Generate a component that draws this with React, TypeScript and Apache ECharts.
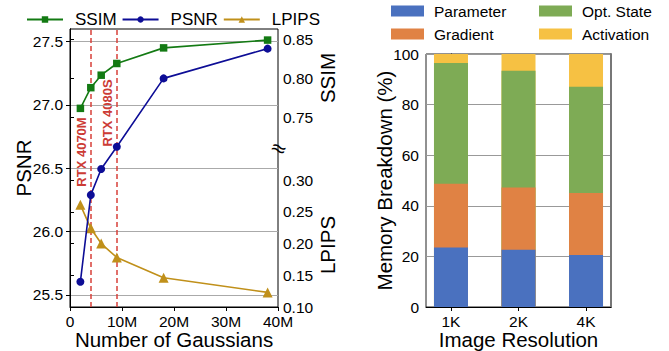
import React, { useEffect, useRef } from "react";
import * as echarts from "echarts";

// ---- Left panel data ----
const gaussians = [2e6, 4e6, 6e6, 9e6, 18e6, 38e6];
const ssim = [0.7615, 0.788, 0.804, 0.819, 0.839, 0.849];
const psnr = [25.605, 26.29, 26.495, 26.67, 27.21, 27.445];
const lpips = [0.261, 0.224, 0.2, 0.178, 0.146, 0.123];
const gpuLimits = [4e6, 9e6];
const gpuNames = ["RTX 4070M", "RTX 4080S"];
const psnrTicks = [25.5, 26.0, 26.5, 27.0, 27.5];
const ssimTicks = [0.75, 0.8, 0.85];
const lpipsTicks = [0.1, 0.15, 0.2, 0.25, 0.3];

// ---- Right panel data ----
const resolutions = ["1K", "2K", "4K"];
const parameter = [23.5, 22.6, 20.6];
const gradient = [25.2, 24.6, 24.5];
const optState = [47.7, 46.2, 42.0];
const activation = [3.6, 6.6, 12.9];

const FONT = "'Liberation Sans', Arial, sans-serif";
const TICK = 15.5;
const TITLE = 20.5;

export default function App() {
  const ref = useRef<HTMLDivElement>(null);
  useEffect(() => {
    document.body.style.margin = "0";
    const chart = echarts.init(ref.current!, null, { renderer: "svg" });
    const txt = { color: "#000", fontFamily: FONT, fontSize: TICK };
    const hiddenX = (gi: number) => ({
      type: "value" as const, gridIndex: gi, min: 0, max: 40e6, show: false,
    });
    // stacked segments: each bar drawn from 0 to its cumulative top, upper segments behind
    const layers = [
      { name: "Parameter", values: parameter, color: "#4a71bf" },
      { name: "Gradient", values: gradient, color: "#e08244" },
      { name: "Opt. State", values: optState, color: "#7eab55" },
      { name: "Activation", values: activation, color: "#f6c143" },
    ];
    const barSeries = layers.map((layer, li) => ({
      name: layer.name, type: "bar", xAxisIndex: 3, yAxisIndex: 3,
      barWidth: 34, barGap: "-100%", color: layer.color, z: 10 - li,
      data: resolutions.map((_, i) => [
        i,
        layers.slice(0, li + 1).reduce((s, l) => s + l.values[i], 0),
      ]),
    }));
    const g = { outerBoundsMode: "none", containLabel: false };
    const option: any = {
      animation: false,
      textStyle: { fontFamily: FONT },
      grid: [
        { ...g, left: 70, top: 29, width: 208, height: 278, show: true, borderColor: "#000", borderWidth: 1, backgroundColor: "transparent" },
        { ...g, left: 70, top: 29, width: 208, height: 120 },
        { ...g, left: 70, top: 149, width: 208, height: 158 },
        { ...g, left: 426, top: 54, width: 185, height: 253, show: true, borderColor: "#222", borderWidth: 1, backgroundColor: "transparent" },
      ],
      legend: [
        {
          data: ["SSIM", "PSNR", "LPIPS"], left: 21, top: 6, itemWidth: 36, itemHeight: 8, itemGap: 5,
          textStyle: { ...txt, fontSize: 17, padding: [0, 0, 0, 7] },
        },
        {
          data: ["Parameter", "Gradient"], orient: "vertical", left: 386, top: -2, itemWidth: 33, itemHeight: 11, itemGap: 7,
          icon: "rect", textStyle: { ...txt, padding: [0, 0, 0, 5] },
        },
        {
          data: ["Opt. State", "Activation"], orient: "vertical", left: 534, top: -2, itemWidth: 33, itemHeight: 11, itemGap: 7,
          icon: "rect", textStyle: { ...txt, padding: [0, 0, 0, 5] },
        },
      ],
      xAxis: [
        {
          type: "value", gridIndex: 0, min: 0, max: 40e6, interval: 10e6,
          name: "Number of Gaussians", nameLocation: "middle", nameGap: 22, nameMoveOverlap: false,
          nameTextStyle: { ...txt, fontSize: TITLE },
          axisLine: { show: true, lineStyle: { color: "#000" } },
          axisTick: { show: true, length: 4, lineStyle: { color: "#000" } },
          axisLabel: { ...txt, margin: 6, formatter: (v: number) => (v === 0 ? "0" : v / 1e6 + "M") },
          splitLine: { show: false },
        },
        hiddenX(1),
        hiddenX(2),
        {
          type: "value", gridIndex: 3, min: -0.37, max: 2.37,
          name: "Image Resolution", nameLocation: "middle", nameGap: 22, nameMoveOverlap: false,
          nameTextStyle: { ...txt, fontSize: TITLE },
          axisLine: { show: true, lineStyle: { color: "#000" } },
          axisTick: { show: true, length: 4, customValues: [0, 1, 2], lineStyle: { color: "#000" } },
          axisLabel: { ...txt, margin: 6, customValues: [0, 1, 2], formatter: (v: number) => resolutions[Math.round(v)] },
          splitLine: { show: false },
        },
      ],
      yAxis: [
        {
          type: "value", gridIndex: 0, min: 25.405, max: 27.6,
          name: "PSNR", nameLocation: "middle", nameGap: 36, nameMoveOverlap: false,
          nameTextStyle: { ...txt, fontSize: TITLE },
          axisLine: { show: true, lineStyle: { color: "#000" } },
          axisTick: { show: true, length: 4, customValues: psnrTicks, lineStyle: { color: "#000" } },
          axisLabel: { ...txt, margin: 7, customValues: psnrTicks, formatter: (v: number) => v.toFixed(1) },
          splitLine: { show: true, lineStyle: { color: "#aaaaaa", width: 1.2 } },
        },
        {
          type: "value", gridIndex: 1, position: "right", min: 0.7094, max: 0.8632,
          axisLine: { show: true, lineStyle: { color: "#000" } },
          axisTick: { show: true, length: 4, customValues: ssimTicks, lineStyle: { color: "#000" } },
          axisLabel: { ...txt, margin: 5, customValues: ssimTicks, formatter: (v: number) => v.toFixed(2) },
          splitLine: { show: false },
        },
        {
          type: "value", gridIndex: 2, position: "right", min: 0.1, max: 0.349,
          axisLine: { show: true, lineStyle: { color: "#000" } },
          axisTick: { show: true, length: 4, customValues: lpipsTicks, lineStyle: { color: "#000" } },
          axisLabel: { ...txt, margin: 5, customValues: lpipsTicks, formatter: (v: number) => v.toFixed(2) },
          splitLine: { show: false },
        },
        {
          type: "value", gridIndex: 3, min: 0, max: 100, interval: 20,
          name: "Memory Breakdown (%)", nameLocation: "middle", nameGap: 31, nameMoveOverlap: false,
          nameTextStyle: { ...txt, fontSize: TITLE },
          axisLine: { show: true, lineStyle: { color: "#000" } },
          axisTick: { show: true, length: 4, lineStyle: { color: "#000" } },
          axisLabel: { ...txt, margin: 7 },
          splitLine: { show: true, lineStyle: { color: "#999999", width: 1.2 } },
        },
        {
          type: "value", gridIndex: 3, position: "right", min: 0, max: 100,
          axisLine: { show: true, lineStyle: { color: "#777", width: 2 } },
          axisTick: { show: false }, axisLabel: { show: false }, splitLine: { show: false },
        },
      ],
      series: [
        {
          name: "LPIPS", type: "line", xAxisIndex: 2, yAxisIndex: 2,
          data: gaussians.map((gg, i) => [gg, lpips[i]]),
          color: "#c0901a", symbol: "triangle", symbolSize: 10,
          lineStyle: { width: 1.6 }, z: 3,
        },
        {
          name: "PSNR", type: "line", xAxisIndex: 0, yAxisIndex: 0,
          data: gaussians.map((gg, i) => [gg, psnr[i]]),
          color: "#0d0d96", symbol: "circle", symbolSize: 8,
          lineStyle: { width: 1.6 }, z: 4,
          markLine: {
            silent: true, symbol: "none", z: 1,
            label: { show: false },
            lineStyle: { color: "#d8403a", type: [5, 3], width: 1.5 },
            data: gpuLimits.map((x) => ({ xAxis: x })),
          },
        },
        {
          name: "SSIM", type: "line", xAxisIndex: 1, yAxisIndex: 1,
          data: gaussians.map((gg, i) => [gg, ssim[i]]),
          color: "#137a13", symbol: "rect", symbolSize: 7.5,
          lineStyle: { width: 1.6 }, z: 4,
        },
        ...barSeries,
      ],
      graphic: [
        { type: "text", x: 327, y: 78, rotation: Math.PI / 2, style: { text: "SSIM", fill: "#000", font: `${TITLE}px ${FONT}`, align: "center", verticalAlign: "middle" } },
        { type: "text", x: 327, y: 245, rotation: Math.PI / 2, style: { text: "LPIPS", fill: "#000", font: `${TITLE}px ${FONT}`, align: "center", verticalAlign: "middle" } },
        { type: "text", x: 279, y: 148, rotation: -0.4, z: 10, style: { text: "≈", fill: "#000", font: `20px 'DejaVu Sans', sans-serif`, align: "center", verticalAlign: "middle" } },
        { type: "text", x: 81, y: 152, rotation: Math.PI / 2, style: { text: gpuNames[0], fill: "#cc3b35", font: `bold 13px ${FONT}`, align: "center", verticalAlign: "middle" } },
        { type: "text", x: 107, y: 113, rotation: Math.PI / 2, style: { text: gpuNames[1], fill: "#cc3b35", font: `bold 13px ${FONT}`, align: "center", verticalAlign: "middle" } },
      ],
    };
    chart.setOption(option);
    return () => chart.dispose();
  }, []);
  return <div ref={ref} style={{ width: 669, height: 351 }} />;
}
